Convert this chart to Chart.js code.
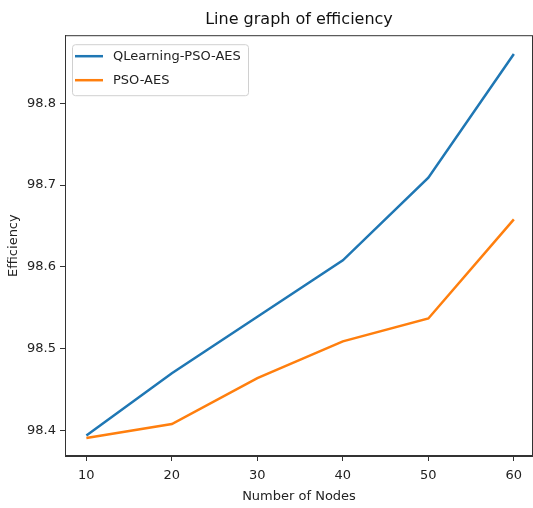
<!DOCTYPE html>
<html>
<head>
<meta charset="utf-8">
<script src="https://cdn.jsdelivr.net/npm/chart.js@4/dist/chart.umd.min.js"></script>
<style>
  html, body { margin: 0; padding: 0; background: #fff; }
  canvas { display: block; }
</style>
</head>
<body>
<canvas id="chart" width="533" height="508"></canvas>
<script>
const nodes = [10, 20, 30, 40, 50, 60]
const qlearningPsoAes = [98.394, 98.470, 98.539, 98.608, 98.709, 98.860]
const psoAes = [98.391, 98.408, 98.464, 98.509, 98.537, 98.658]
const seriesNames = ['QLearning-PSO-AES', 'PSO-AES']
const xTickValues = [10, 20, 30, 40, 50, 60]
const yTickValues = [98.4, 98.5, 98.6, 98.7, 98.8]

const FONT = 'DejaVu Sans'
const blue = '#1f77b4'
const orange = '#ff7f0e'

// matplotlib style box around the axes
const framePlugin = {
  id: 'frame',
  afterDatasetsDraw(chart) {
    const { ctx, chartArea: a } = chart
    ctx.save()
    ctx.strokeStyle = '#333'
    ctx.lineWidth = 1
    ctx.strokeRect(a.left + 0.5, a.top + 0.5, a.right - a.left - 1, a.bottom - a.top - 1)
    ctx.restore()
  }
}

// legend drawn inside the axes, upper left
const boxLegend = {
  id: 'boxLegend',
  afterDraw(chart) {
    const { ctx, chartArea: a } = chart
    const x = a.left + 7, y = a.top + 9, w = 176, h = 51
    ctx.save()
    ctx.beginPath()
    ctx.roundRect(x + 0.5, y + 0.5, w, h, 3)
    ctx.fillStyle = 'rgba(255,255,255,0.8)'
    ctx.fill()
    ctx.strokeStyle = '#d0d0d0'
    ctx.lineWidth = 1
    ctx.stroke()
    ctx.font = `13px "${FONT}"`
    ctx.textBaseline = 'middle'
    chart.data.datasets.forEach((ds, i) => {
      const cy = y + 12 + i * 24
      ctx.beginPath()
      ctx.moveTo(x + 3, cy)
      ctx.lineTo(x + 31, cy)
      ctx.strokeStyle = ds.borderColor
      ctx.lineWidth = 2.5
      ctx.stroke()
      ctx.fillStyle = '#222'
      ctx.fillText(ds.label, x + 41, cy)
    })
    ctx.restore()
  }
}

new Chart(document.getElementById('chart'), {
  type: 'line',
  data: {
    datasets: [
      {
        label: seriesNames[0],
        data: nodes.map((n, i) => ({ x: n, y: qlearningPsoAes[i] })),
        borderColor: blue,
        backgroundColor: blue,
        borderWidth: 2.5,
        pointRadius: 0,
        tension: 0
      },
      {
        label: seriesNames[1],
        data: nodes.map((n, i) => ({ x: n, y: psoAes[i] })),
        borderColor: orange,
        backgroundColor: orange,
        borderWidth: 2.5,
        pointRadius: 0,
        tension: 0
      }
    ]
  },
  options: {
    responsive: false,
    animation: false,
    layout: { padding: 0 },
    plugins: {
      legend: { display: false },
      tooltip: { enabled: false },
      title: {
        display: true,
        text: 'Line graph of efficiency',
        fullSize: false,
        color: '#111',
        font: { family: FONT, size: 16, weight: 'normal' },
        padding: { top: 10, bottom: 6 }
      }
    },
    scales: {
      x: {
        type: 'linear',
        min: 7.5,
        max: 62.24,
        afterBuildTicks(scale) {
          scale.ticks = xTickValues.map(v => ({ value: v }))
        },
        afterFit(scale) { scale.height = 52 },
        grid: { drawOnChartArea: false, tickLength: 5, tickColor: '#333' },
        border: { color: '#333' },
        ticks: {
          color: '#222',
          padding: 7,
          maxRotation: 0,
          font: { family: FONT, size: 13 },
          callback: v => String(v)
        },
        title: {
          display: true,
          text: 'Number of Nodes',
          color: '#222',
          font: { family: FONT, size: 13 },
          padding: { top: 0, bottom: 4 }
        }
      },
      y: {
        type: 'linear',
        min: 98.369,
        max: 98.883,
        afterBuildTicks(scale) {
          scale.ticks = yTickValues.map(v => ({ value: v }))
        },
        afterFit(scale) { scale.width = 65 },
        grid: { drawOnChartArea: false, tickLength: 5, tickColor: '#333' },
        border: { color: '#333' },
        ticks: {
          color: '#222',
          padding: 4,
          font: { family: FONT, size: 13 },
          callback: v => v.toFixed(1)
        },
        title: {
          display: true,
          text: 'Efficiency',
          color: '#222',
          font: { family: FONT, size: 13 },
          padding: { top: 6, bottom: 0 }
        }
      }
    }
  },
  plugins: [framePlugin, boxLegend]
})
</script>
</body>
</html>
